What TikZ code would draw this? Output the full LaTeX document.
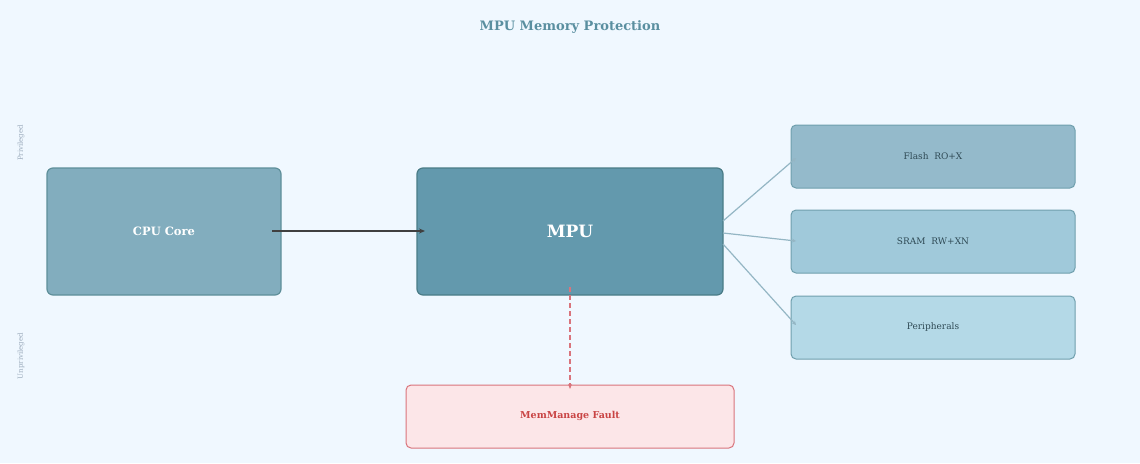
\documentclass[tikz,border=0pt]{standalone}
\usepackage{fontspec}
\setmainfont{DejaVu Serif}
\usetikzlibrary{arrows.meta}
\definecolor{bg}{HTML}{F0F8FF}
\definecolor{cpuf}{HTML}{82ADBE}\definecolor{cpud}{HTML}{5E8F9A}
\definecolor{mpuf}{HTML}{6399AD}\definecolor{mpud}{HTML}{4A7C87}
\definecolor{flf}{HTML}{94BACB}\definecolor{srf}{HTML}{A0C9DA}\definecolor{pef}{HTML}{B4D9E7}
\definecolor{memd}{HTML}{6F9FAD}\definecolor{memt}{HTML}{2F4A55}
\definecolor{fltf}{HTML}{FCE6E8}\definecolor{fltd}{HTML}{D9747C}\definecolor{fltt}{HTML}{C94444}
\definecolor{ttl}{HTML}{5A8FA0}\definecolor{side}{HTML}{9AAABB}
\definecolor{lnk}{HTML}{94B6C4}
\begin{document}
\begin{tikzpicture}[x=1pt,y=-1pt,
  box/.style={draw,rounded corners=6pt,line width=1.2pt,inner sep=0},
  mem/.style={box,draw=memd,rounded corners=5pt,line width=1pt},
  memtxt/.style={font=\fontsize{9}{10}\selectfont,text=memt},
  link/.style={draw=lnk,line width=1.2pt,-{Stealth[length=4pt,width=4pt]}}]
\fill[bg] (0,0) rectangle (1140,463);
\useasboundingbox (0,0) rectangle (1140,463);
\node[font=\bfseries\fontsize{13}{15}\selectfont,text=ttl] (title) at (570,27) {MPU Memory Protection};
\node[rotate=90,font=\fontsize{7}{8}\selectfont,text=side] (priv) at (21,143) {Privileged};
\node[rotate=90,font=\fontsize{7}{8}\selectfont,text=side] (unpriv) at (21,356) {Unprivileged};
\draw[box,fill=cpuf,draw=cpud] (47,168) rectangle (281,295);
\node[font=\bfseries\fontsize{11.5}{13}\selectfont,text=white] (cpu) at (164,231) {CPU Core};
\draw[box,fill=mpuf,draw=mpud] (417,168) rectangle (723,295);
\node[font=\bfseries\fontsize{17}{19}\selectfont,text=white] (mpu) at (570,231) {MPU};
\draw[mem,fill=flf] (791,125) rectangle (1075,188);
\node[memtxt] (flash) at (933,156) {Flash\ \ RO+X};
\draw[mem,fill=srf] (791,210) rectangle (1075,273);
\node[memtxt] (sram) at (933,241) {SRAM\ \ RW+XN};
\draw[mem,fill=pef] (791,296) rectangle (1075,359);
\node[memtxt] (peri) at (933,327) {Peripherals};
\draw[box,fill=fltf,draw=fltd,rounded corners=5pt,line width=1pt] (406,385) rectangle (734,448);
\node[font=\bfseries\fontsize{9.5}{11}\selectfont,text=fltt] (fault) at (570,416) {MemManage Fault};
\coordinate (c1) at (272,231); \coordinate (c2) at (425,231);
\draw[draw=black!75,line width=1.5pt,-{Stealth[length=6pt,width=5pt]}] (c1) -- (c2);
\coordinate (f1) at (570,287); \coordinate (f2) at (570,389);
\draw[draw=fltd,line width=1.5pt,dash pattern=on 5pt off 3pt,-{Stealth[length=5pt,width=4pt]}] (f1) -- (f2);
\coordinate (m1) at (723,221); \coordinate (t1) at (796,158);
\coordinate (m2) at (723,233); \coordinate (t2) at (796,241);
\coordinate (m3) at (723,244); \coordinate (t3) at (796,325);
\draw[link] (m1) -- (t1);
\draw[link] (m2) -- (t2);
\draw[link] (m3) -- (t3);
\end{tikzpicture}
\end{document}
